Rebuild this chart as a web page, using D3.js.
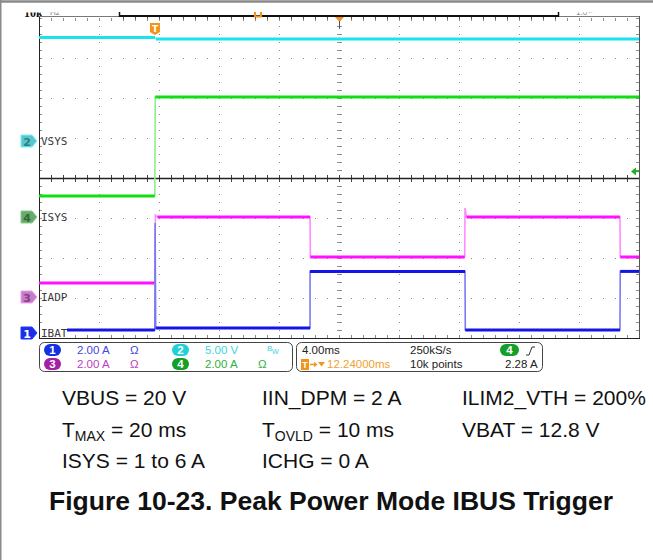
<!DOCTYPE html>
<html>
<head>
<meta charset="utf-8">
<script src="https://cdn.jsdelivr.net/npm/d3@7"></script>
<style>
  html, body { margin: 0; padding: 0; background: #fff; }
  svg { display: block; }
</style>
</head>
<body>
<svg id="chart" width="653" height="560"></svg>
<script>
// ---- Scope capture data (time in ms from left edge of screen, values in channel units) ----
const channelNames  = ["IBAT", "VSYS", "IADP", "ISYS"];
const channelNums   = [1, 2, 3, 4];
const channelColors = ["#1414e6", "#18e4ee", "#ff10ff", "#10e010"];
const edgeColors    = ["#7a7af0", "#8af0f4", "#ff8cff", "#8af08a"];
const channelScales = [2, 5, 2, 2];            // units per division
const channelUnits  = ["A", "V", "A", "A"];
const channelZeros  = [0.125, 4.925, 1.025, 3.025]; // ground marker position, divisions from bottom

const ibatTrace = [[0, 0.15], [7.72, 0.15], [7.74, 5.5], [7.78, 0.25], [18.07, 0.25], [18.07, 3.08],
                   [28.4, 3.08], [28.42, 0.15], [38.73, 0.15], [38.75, 3.08], [40, 3.08]];
const vsysTrace = [[0, 12.94], [7.73, 12.94], [7.8, 12.75], [40, 12.75]];
const iadpTrace = [[0, 0.7], [7.72, 0.7], [7.76, 4.1], [7.9, 4.0], [18.07, 4.0], [18.09, 2.0],
                   [28.38, 2.0], [28.4, 4.45], [28.5, 4.0], [38.73, 4.0], [38.75, 2.0], [40, 2.0]];
const isysTrace = [[0, 1.05], [7.72, 1.05], [7.75, 6.0], [40, 6.0]];
const traces = [ibatTrace, vsysTrace, iadpTrace, isysTrace];

const timePerDiv = 4;          // ms/div
const triggerTime = 7.73;      // ms from left edge
const triggerLevel = 2.28;     // A on channel 4

const statusRow1 = ["4.00ms", "250kS/s"];
const statusRow2 = ["12.24000ms", "10k points", "2.28 A"];

const condRows = [
  [["VBUS = 20 V"], ["IIN_DPM = 2 A"], ["ILIM2_VTH = 200%"]],
  [["T", "MAX", " = 20 ms"], ["T", "OVLD", " = 10 ms"], ["VBAT = 12.8 V"]],
  [["ISYS = 1 to 6 A"], ["ICHG = 0 A"]]
];
const caption = "Figure 10-23. Peak Power Mode IBUS Trigger";

// ---- Layout ----
const svg = d3.select("#chart");
const X0 = 39, X1 = 639, Y0 = 18, Y1 = 338;
const x = d3.scaleLinear().domain([0, 10 * timePerDiv]).range([X0, X1]);
const y = d3.scaleLinear().domain([0, 8]).range([Y1, Y0]);   // divisions
const chY = i => v => y(channelZeros[i] + v / channelScales[i]);

// outer page frame
svg.append("line").attr("x1", 0.5).attr("x2", 0.5).attr("y1", 0).attr("y2", 560)
  .attr("stroke", "#8a8a8a").attr("stroke-width", 2);
svg.append("line").attr("x1", 0).attr("x2", 653).attr("y1", 1.5).attr("y2", 1.5)
  .attr("stroke", "#8a8a8a").attr("stroke-width", 2.5);

// clipped header text above the graticule
const hdr = svg.append("g");
hdr.append("text").attr("x", 24).attr("y", 17).attr("font-family", "Liberation Serif")
  .attr("font-weight", "bold").attr("font-size", 12).attr("fill", "#111").text("10k");
hdr.append("text").attr("x", 50).attr("y", 15).attr("font-family", "Liberation Sans")
  .attr("font-size", 8).attr("fill", "#777").text("Hz");
hdr.append("text").attr("x", 576).attr("y", 15).attr("font-family", "Liberation Sans")
  .attr("font-size", 8).attr("fill", "#777").text("1.0");
hdr.append("text").attr("x", 588).attr("y", 15).attr("font-family", "Liberation Sans")
  .attr("font-size", 8).attr("fill", "#777").text("~");
svg.append("rect").attr("x", 2).attr("y", 3).attr("width", 651).attr("height", 9.5).attr("fill", "#fff");

// ---- Graticule ----
const grid = svg.append("g");
const gridColor = "#8c8c8c";
// dotted major lines
d3.range(1, 10).forEach(k => {
  if (k === 5) return;
  grid.append("line").attr("x1", x(k * timePerDiv) + 0.5).attr("x2", x(k * timePerDiv) + 0.5)
    .attr("y1", Y0).attr("y2", Y1).attr("stroke", gridColor).attr("stroke-width", 1)
    .attr("stroke-dasharray", "1,7");
});
[1, 2, 3, 5, 6, 7].forEach(k => {
  grid.append("line").attr("x1", X0).attr("x2", X1).attr("y1", y(k) + 0.5).attr("y2", y(k) + 0.5)
    .attr("stroke", gridColor).attr("stroke-width", 1).attr("stroke-dasharray", "1,11");
});
// center vertical with ticks
grid.append("line").attr("x1", x(20) + 0.5).attr("x2", x(20) + 0.5).attr("y1", Y0).attr("y2", Y1)
  .attr("stroke", gridColor).attr("stroke-dasharray", "1,7");
d3.range(0, 41).forEach(k => {
  const yy = Y0 + k * 8 + 0.5;
  grid.append("line").attr("x1", x(20) - 2).attr("x2", x(20) + 3).attr("y1", yy).attr("y2", yy)
    .attr("stroke", gridColor);
  grid.append("line").attr("x1", X0).attr("x2", X0 + 3).attr("y1", yy).attr("y2", yy).attr("stroke", gridColor);
  grid.append("line").attr("x1", X1 - 3).attr("x2", X1).attr("y1", yy).attr("y2", yy).attr("stroke", gridColor);
});
d3.range(0, 51).forEach(k => {
  const xx = X0 + k * 12 + 0.5;
  grid.append("line").attr("x1", xx).attr("x2", xx).attr("y1", Y0).attr("y2", Y0 + 3).attr("stroke", gridColor);
  grid.append("line").attr("x1", xx).attr("x2", xx).attr("y1", Y1 - 3).attr("y2", Y1).attr("stroke", gridColor);
  grid.append("line").attr("x1", xx).attr("x2", xx).attr("y1", y(4) - 3).attr("y2", y(4) + 4).attr("stroke", "#444");
});
// pane divider
grid.append("line").attr("x1", X0).attr("x2", X1).attr("y1", y(4) + 0.5).attr("y2", y(4) + 0.5)
  .attr("stroke", "#222").attr("stroke-width", 1.3);
// frame
grid.append("line").attr("x1", X0 + 0.5).attr("x2", X0 + 0.5).attr("y1", Y0 - 2).attr("y2", Y1 + 0.5).attr("stroke", "#222");
grid.append("line").attr("x1", X0).attr("x2", X1 + 1).attr("y1", Y1 + 0.5).attr("y2", Y1 + 0.5).attr("stroke", "#222");
grid.append("line").attr("x1", X1 + 0.5).attr("x2", X1 + 0.5).attr("y1", Y0 - 2).attr("y2", Y1).attr("stroke", "#555");
grid.append("line").attr("x1", X0).attr("x2", X1).attr("y1", Y0 - 1.5).attr("y2", Y0 - 1.5).attr("stroke", "#777");
// record-window bar on top edge
grid.append("line").attr("x1", 119).attr("x2", 558).attr("y1", Y0 - 2).attr("y2", Y0 - 2)
  .attr("stroke", "#111").attr("stroke-width", 2);
[119, 558].forEach(xx => grid.append("line").attr("x1", xx + 0.5).attr("x2", xx + 0.5)
  .attr("y1", Y0 - 6).attr("y2", Y0 - 1).attr("stroke", "#111").attr("stroke-width", 1.5));
d3.range(0, 37).forEach(k => {
  const xx = 123 + k * 12 + 0.5;
  grid.append("line").attr("x1", xx).attr("x2", xx).attr("y1", Y0 - 1).attr("y2", Y0 + 1).attr("stroke", "#555");
});
// trigger position in record (small orange bracket) and delay marker
svg.append("path").attr("d", "M255,12 v4.5 h6 v-4.5").attr("fill", "none")
  .attr("stroke", "#f29418").attr("stroke-width", 2);
svg.append("path").attr("d", `M${x(20) - 4},${Y0 - 1} h9 l-4.5,5 z`).attr("fill", "#f29418");
svg.append("line").attr("x1", x(20) + 0.5).attr("x2", x(20) + 0.5).attr("y1", Y0 + 3).attr("y2", Y0 + 11)
  .attr("stroke", "#555");

// ---- Traces: thin, lighter edges plus thick flat runs ----
const traceG = svg.append("g");
// draw order: green, cyan, magenta, blue
[3, 1, 2, 0].forEach(i => {
  const line = d3.line().x(d => x(d[0])).y(d => chY(i)(d[1]));
  traceG.append("path").datum(traces[i]).attr("d", line)
    .attr("fill", "none").attr("stroke", edgeColors[i]).attr("stroke-width", 1.6);
  const runs = d3.pairs(traces[i]).filter(([a, b]) => b[0] - a[0] > 0.2);
  traceG.selectAll(null).data(runs).join("line")
    .attr("x1", d => x(d[0][0])).attr("x2", d => x(d[1][0]))
    .attr("y1", d => chY(i)(d[0][1])).attr("y2", d => chY(i)(d[1][1]))
    .attr("stroke", channelColors[i]).attr("stroke-width", 3);
});

// trigger marker
const tx = x(triggerTime);
svg.append("path").attr("d", `M${tx - 5},23 h10 v9 l-5,3 l-5,-3 z`).attr("fill", "#f29418");
svg.append("text").attr("x", tx).attr("y", 31.5).attr("text-anchor", "middle")
  .attr("font-family", "DejaVu Sans").attr("font-size", 9).attr("font-weight", "bold")
  .attr("fill", "#fff").text("T");
// trigger level arrow on channel 4
const ty = chY(3)(triggerLevel);
svg.append("path").attr("d", `M${X1 - 8},${ty} l5,-4 v8 z`).attr("fill", "#22b022");
svg.append("line").attr("x1", X1 - 4).attr("x2", X1).attr("y1", ty).attr("y2", ty).attr("stroke", "#22b022").attr("stroke-width", 1.5);

// ---- Channel ground markers and names ----
const markerFill = ["#1a2ee6", "#5cc4cc", "#c47ec4", "#6aa86e"];
const markerText = ["#fff", "#2a7f86", "#8a3a8a", "#2f6b33"];
channelNames.forEach((name, i) => {
  const yy = y(channelZeros[i]);
  svg.append("path").attr("d", `M21,${yy - 6} h11 l5,6 l-5,6 h-11 z`)
    .attr("fill", markerFill[i]).attr("stroke", d3.color(markerFill[i]).brighter(0.6)).attr("stroke-width", 1);
  svg.append("text").attr("x", 27).attr("y", yy + 4.5).attr("text-anchor", "middle")
    .attr("font-family", "DejaVu Sans").attr("font-weight", "bold").attr("font-size", 11)
    .attr("fill", markerText[i]).text(channelNums[i]);
  if (name === "IBAT") {
    svg.append("rect").attr("x", 40).attr("y", yy - 7).attr("width", 27).attr("height", 12).attr("fill", "#fff");
  }
  svg.append("text").attr("x", 41).attr("y", yy + 4).attr("font-family", "DejaVu Sans Mono")
    .attr("font-size", 11).attr("fill", "#3a3a3a").text(name);
});

// ---- Status bar ----
const sb = svg.append("g").attr("font-family", "Liberation Sans, Arial").attr("font-size", 11.5);
sb.append("rect").attr("x", 39.5).attr("y", 342.5).attr("width", 253).attr("height", 29).attr("rx", 5)
  .attr("fill", "#fff").attr("stroke", "#444");
sb.append("rect").attr("x", 296.5).attr("y", 342.5).attr("width", 246).attr("height", 29).attr("rx", 5)
  .attr("fill", "#fff").attr("stroke", "#444");
const badgeFill = ["#1430e0", "#22d0d8", "#a41fa4", "#14a028"];
const valueColor = ["#4646e0", "#3cd4dc", "#c03cc0", "#30b03c"];
const badgePos = [[44, 350], [172, 350], [44, 364], [172, 364]];
channelNums.forEach((n, i) => {
  const [bx, by] = badgePos[i];
  sb.append("rect").attr("x", bx).attr("y", by - 6).attr("width", 17).attr("height", 12).attr("rx", 6)
    .attr("fill", badgeFill[i]);
  sb.append("text").attr("x", bx + 8.5).attr("y", by + 4).attr("text-anchor", "middle")
    .attr("fill", "#fff").attr("font-weight", "bold").text(n);
  sb.append("text").attr("x", bx + 33).attr("y", by + 4).attr("fill", valueColor[i])
    .text(channelScales[i].toFixed(2) + " " + channelUnits[i]);
  if (i === 1) {
    sb.append("text").attr("x", bx + 95).attr("y", by + 1).attr("fill", valueColor[i]).attr("font-size", 8).text("B");
    sb.append("text").attr("x", bx + 100).attr("y", by + 4).attr("fill", valueColor[i]).attr("font-size", 7).text("W");
  } else {
    sb.append("text").attr("x", bx + 86).attr("y", by + 4).attr("fill", valueColor[i]).text("Ω");
  }
});
sb.append("text").attr("x", 302).attr("y", 354).attr("fill", "#222").text(statusRow1[0]);
sb.append("text").attr("x", 410).attr("y", 354).attr("fill", "#222").text(statusRow1[1]);
sb.append("rect").attr("x", 500).attr("y", 344).attr("width", 19).attr("height", 12).attr("rx", 6).attr("fill", "#14a028");
sb.append("text").attr("x", 509.5).attr("y", 354).attr("text-anchor", "middle").attr("fill", "#fff")
  .attr("font-weight", "bold").text("4");
sb.append("path").attr("d", "M526,355 h3 l3,-8 h3").attr("fill", "none").attr("stroke", "#333").attr("stroke-width", 1);
// trigger delay
sb.append("rect").attr("x", 301).attr("y", 359).attr("width", 8).attr("height", 11).attr("fill", "#f29418");
sb.append("text").attr("x", 305).attr("y", 368).attr("text-anchor", "middle").attr("fill", "#fff")
  .attr("font-size", 9).attr("font-weight", "bold").text("T");
sb.append("path").attr("d", "M310,364.5 h6 M314,362.5 l2.5,2 l-2.5,2").attr("fill", "none")
  .attr("stroke", "#f29418").attr("stroke-width", 1.3);
sb.append("path").attr("d", "M318,362 h7 l-3.5,4.5 z").attr("fill", "#f29418");
sb.append("text").attr("x", 327).attr("y", 368).attr("fill", "#f2a030").text(statusRow2[0]);
sb.append("text").attr("x", 410).attr("y", 368).attr("fill", "#222").text(statusRow2[1]);
sb.append("text").attr("x", 505).attr("y", 368).attr("fill", "#222").text(statusRow2[2]);

// ---- Test conditions ----
const cond = svg.append("g").attr("font-family", "Liberation Sans, Arial").attr("font-size", 21).attr("fill", "#111");
const colX = [62, 262, 462];
const rowY = [405, 437, 468];
condRows.forEach((row, r) => {
  row.forEach((parts, c) => {
    const t = cond.append("text").attr("x", colX[c]).attr("y", rowY[r]);
    if (parts.length === 1) {
      t.text(parts[0]);
    } else {
      t.append("tspan").text(parts[0]);
      t.append("tspan").attr("font-size", 14).attr("dy", 4).text(parts[1]);
      t.append("tspan").attr("dy", -4).text(parts[2]);
    }
  });
});
svg.append("text").attr("x", 331).attr("y", 510).attr("text-anchor", "middle")
  .attr("font-family", "Liberation Sans, Arial").attr("font-weight", "bold").attr("font-size", 26.5)
  .attr("fill", "#111").text(caption);
</script>
</body>
</html>
